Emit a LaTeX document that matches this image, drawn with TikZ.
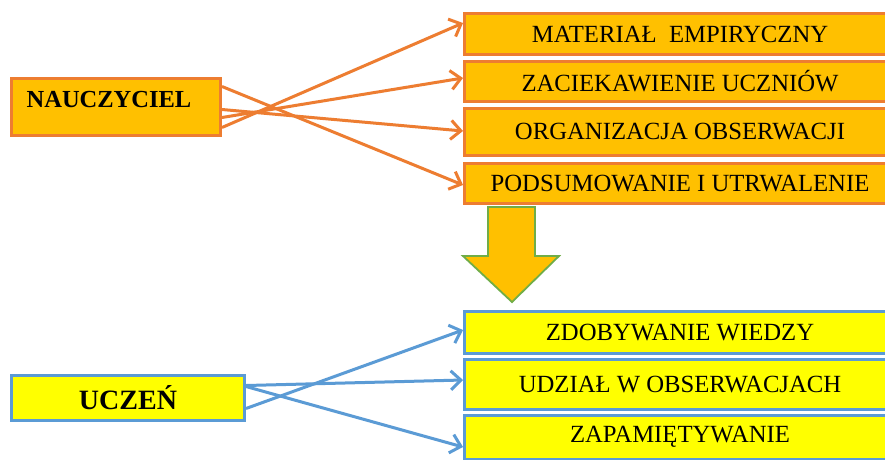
\documentclass[tikz,border=0pt]{standalone}
\usepackage{fontspec}
\setmainfont{Liberation Serif}
\usetikzlibrary{arrows.meta,calc}
\definecolor{ofill}{HTML}{FFC000}
\definecolor{oline}{HTML}{ED7D31}
\definecolor{yfill}{HTML}{FFFF00}
\definecolor{bline}{HTML}{5B9BD5}
\definecolor{gline}{HTML}{70AD47}
\tikzset{
  obox/.style={draw=oline, fill=ofill, line width=3pt, inner sep=0pt, minimum width=431pt,
    font=\fontsize{24.7}{28}\selectfont},
  ybox/.style={draw=bline, fill=yfill, line width=3pt, inner sep=0pt, minimum width=431pt,
    font=\fontsize{24.7}{28}\selectfont},
  oarr/.style={draw=oline, line width=3pt, -{Straight Barb[length=10pt,width=19pt,line width=3pt]}},
  barr/.style={draw=bline, line width=3pt, -{Straight Barb[length=10pt,width=19pt,line width=3pt]}},
  bigarrow/.style={draw=gline, fill=ofill, line width=1.8pt, line join=miter}
}
\begin{document}
\begin{tikzpicture}[x=1pt,y=-1pt]
\clip (0,0) rectangle (885,459);
\useasboundingbox (0,0) rectangle (885,459);
\fill[white] (0,0) rectangle (885,459);
% right column, orange
\node[obox, minimum height=41pt] (m1) at (680,34) {MATERIAŁ\ \ EMPIRYCZNY};
\node[obox, minimum height=40pt] (m2) at (680,81.5) {ZACIEKAWIENIE UCZNIÓW};
\node[obox, minimum height=47pt] (m3) at (680,132) {ORGANIZACJA OBSERWACJI};
\node[obox, minimum height=40pt] (m4) at (680,183.5) {PODSUMOWANIE I UTRWALENIE};
% big down arrow
\draw[bigarrow] (488,207) -- (535,207) -- (535,256) -- (559,256) -- (512,302) -- (463,256) -- (488,256) -- cycle;
% right column, yellow
\node[ybox, minimum height=42pt] (u1) at (680,332.5) {ZDOBYWANIE WIEDZY};
\node[ybox, minimum height=50pt] (u2) at (680,384.5) {UDZIAŁ W OBSERWACJACH};
\node[ybox, minimum height=44pt] (u3) at (680,437) {ZAPAMIĘTYWANIE};
% left boxes
\node[draw=oline, fill=ofill, line width=3pt, minimum width=209pt, minimum height=57pt, inner sep=0pt] (n) at (116,107) {};
\node[font=\fontsize{24.5}{28}\selectfont\bfseries, inner sep=0pt] (ntext) at (109,100) {NAUCZYCIEL};
\node[draw=bline, fill=yfill, line width=3pt, minimum width=233pt, minimum height=45pt, inner sep=0pt,
  font=\fontsize{28}{32}\selectfont\bfseries] (u) at (128,398) {UCZEŃ};
% orange arrows
\draw[oarr] ($(n.north east)+(0,9.5)$) -- ($(m4.west)+(0,1.5)$);
\draw[oarr] ($(n.north east)+(0,32.5)$) -- ($(m3.west)+(0,-1)$);
\draw[oarr] ($(n.north east)+(0,40.5)$) -- ($(m2.west)+(0,-3.5)$);
\draw[oarr] ($(n.north east)+(0,50.5)$) -- ($(m1.west)+(0,-11)$);
% blue arrows
\draw[barr] ($(u.north east)+(0,11.5)$) -- ($(u2.west)+(0,-4.5)$);
\draw[barr] ($(u.north east)+(0,12.5)$) -- ($(u3.west)+(0,10)$);
\draw[barr] ($(u.north east)+(0,34.5)$) -- ($(u1.west)+(0,-2.5)$);
\end{tikzpicture}
\end{document}
